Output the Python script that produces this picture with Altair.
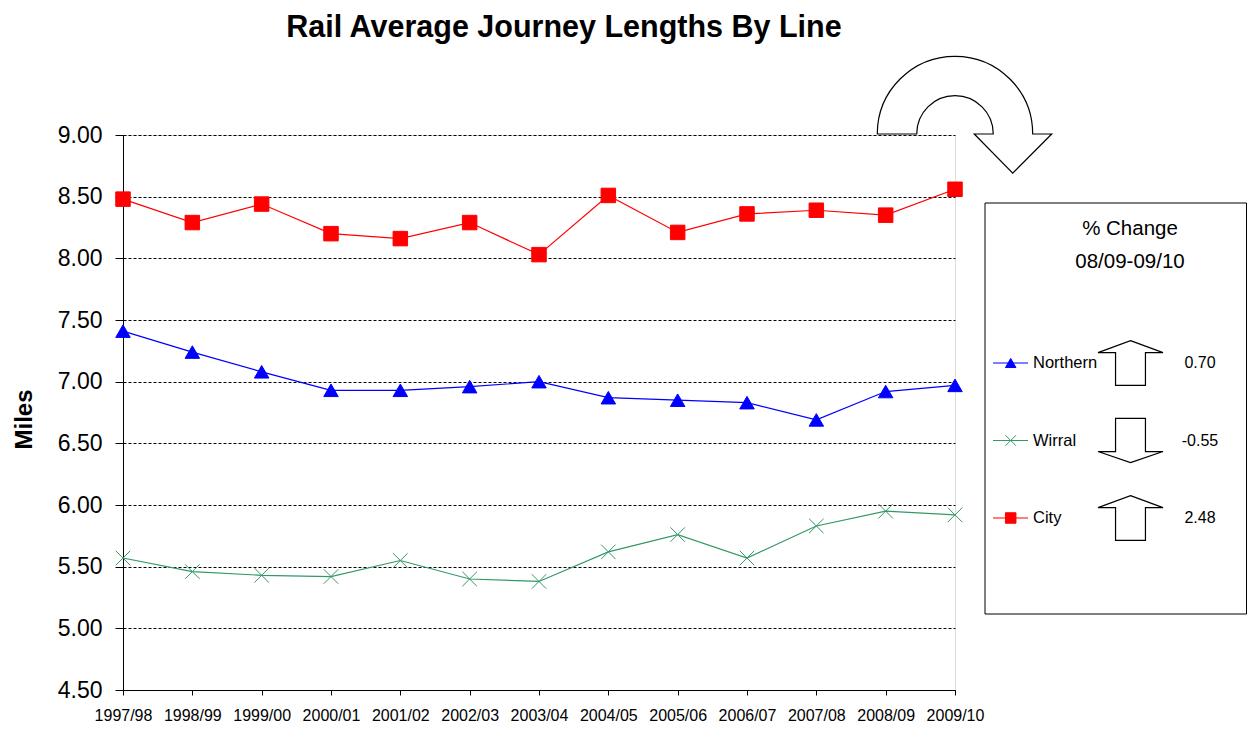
import altair as alt
import pandas as pd

# ---------------- data ----------------
years = ["1997/98", "1998/99", "1999/00", "2000/01", "2001/02", "2002/03", "2003/04",
         "2004/05", "2005/06", "2006/07", "2007/08", "2008/09", "2009/10"]
northern = [7.41, 7.24, 7.08, 6.93, 6.93, 6.96, 7.00, 6.87, 6.85, 6.83, 6.69, 6.92, 6.97]
wirral = [5.57, 5.46, 5.43, 5.42, 5.55, 5.40, 5.38, 5.62, 5.76, 5.57, 5.83, 5.95, 5.92]
city = [8.48, 8.29, 8.44, 8.20, 8.16, 8.29, 8.03, 8.51, 8.21, 8.36, 8.39, 8.35, 8.56]
series_names = ["Northern", "Wirral", "City"]
series_colors = ["#0000FF", "#339966", "#FF0000"]
pct_change = [0.70, -0.55, 2.48]
y_ticks = [4.5, 5.0, 5.5, 6.0, 6.5, 7.0, 7.5, 8.0, 8.5, 9.0]
title_text = "Rail Average Journey Lengths By Line"
legend_header = ["% Change", "08/09-09/10"]
y_title = "Miles"

FONT = "Liberation Sans"
X_PATH = "M-1,-1L1,1M-1,1L1,-1"
UP_PATH = "M0,-0.69L1,-0.32L0.46,-0.32L0.46,0.69L-0.46,0.69L-0.46,-0.32L-1,-0.32Z"
DOWN_PATH = "M0,0.68L1,0.34L0.46,0.34L0.46,-0.68L-0.46,-0.68L-0.46,0.34L-1,0.34Z"
CURVE_PATH = ("M-1,0.22A0.891,0.891,0,0,1,0.782,0.22L1,0.22L0.553,0.67L0.112,0.22"
              "L0.33,0.22A0.439,0.439,0,0,0,-0.548,0.22Z")

rows = []
for name, vals in zip(series_names, [northern, wirral, city]):
    for yr, v in zip(years, vals):
        rows.append({"year": yr, "series": name, "value": v})
df = pd.DataFrame(rows)

legend_df = pd.DataFrame({
    "series": series_names,
    "pct": pct_change,
    "label": [f"{v:.2f}" for v in pct_change],
    "ly": [228 + i * 77.5 for i in range(len(series_names))],
})
header_df = pd.DataFrame({
    "text": legend_header,
    "hy": [94 + i * 32.7 for i in range(len(legend_header))],
})
one = pd.DataFrame({"t": [title_text]})

color_scale = alt.Scale(domain=series_names, range=series_colors)
shape_scale = alt.Scale(domain=series_names, range=["triangle-up", X_PATH, "square"])

x_enc = alt.X("year:N", sort=years, scale=alt.Scale(type="point", padding=0),
              axis=alt.Axis(title=None, labelAngle=0, labelFontSize=16, labelColor="black",
                            tickSize=5, tickColor="black", domainColor="black",
                            labelPadding=12, grid=False))
y_enc = alt.Y("value:Q", scale=alt.Scale(domain=[4.5, 9.0], nice=False, zero=False),
              axis=alt.Axis(values=y_ticks, format=".2f", labelFontSize=23, labelColor="black",
                            labelPadding=13, tickSize=8, tickColor="black",
                            domainColor="black", grid=True, gridColor="black",
                            gridDash=[3, 2], gridWidth=1,
                            title=y_title, titleFontSize=24, titleFontWeight="bold",
                            titleColor="black", titleX=-99, titleY=284,
                            titleAlign="center", titleBaseline="middle"))

lines = alt.Chart(df).mark_line(strokeWidth=1.2).encode(
    x=x_enc, y=y_enc,
    color=alt.Color("series:N", scale=color_scale, legend=None),
)
points = alt.Chart(df).mark_point(filled=True, opacity=1, strokeWidth=1, size=210).encode(
    x=x_enc, y=y_enc,
    fill=alt.Fill("series:N", scale=color_scale, legend=None),
    stroke=alt.Stroke("series:N", scale=color_scale, legend=None),
    shape=alt.Shape("series:N", scale=shape_scale, legend=None),
)

title = alt.Chart(one).mark_text(font=FONT, fontSize=30.5, fontWeight="bold", color="black",
                                 align="center", baseline="alphabetic").encode(
    x=alt.value(441), y=alt.value(-98), text="t:N")

curve = alt.Chart(one).mark_point(shape=CURVE_PATH, size=30415, filled=True, fill="white",
                                  stroke="black", strokeWidth=1.2, opacity=1).encode(
    x=alt.value(841.5), y=alt.value(-20.2))

box = alt.Chart(one).mark_rect(fill="white", stroke="black", strokeWidth=1).encode(
    x=alt.value(862), x2=alt.value(1123.5), y=alt.value(68), y2=alt.value(479))

header = alt.Chart(header_df).mark_text(font=FONT, fontSize=20.5, color="black",
                                        align="center", baseline="middle").encode(
    x=alt.value(1007), y=alt.Y("hy:Q", scale=None), text="text:N")

leg_lines = alt.Chart(legend_df).mark_rule(strokeWidth=1.2).encode(
    x=alt.value(870), x2=alt.value(905), y=alt.Y("ly:Q", scale=None),
    color=alt.Color("series:N", scale=color_scale, legend=None))

leg_pts = alt.Chart(legend_df).mark_point(filled=True, opacity=1, strokeWidth=1, size=110).encode(
    x=alt.value(887.7), y=alt.Y("ly:Q", scale=None),
    fill=alt.Fill("series:N", scale=color_scale, legend=None),
    stroke=alt.Stroke("series:N", scale=color_scale, legend=None),
    shape=alt.Shape("series:N", scale=shape_scale, legend=None))

leg_text = alt.Chart(legend_df).mark_text(font=FONT, fontSize=16.5, color="black",
                                          align="left", baseline="middle").encode(
    x=alt.value(910), y=alt.Y("ly:Q", scale=None), text="series:N")

up_arrows = alt.Chart(legend_df).transform_filter("datum.pct >= 0").mark_point(
    shape=UP_PATH, size=4225, filled=True, fill="white", stroke="black",
    strokeWidth=1.2, opacity=1).encode(
    x=alt.value(1007.5), y=alt.Y("ly:Q", scale=None))

down_arrows = alt.Chart(legend_df).transform_filter("datum.pct < 0").mark_point(
    shape=DOWN_PATH, size=4225, filled=True, fill="white", stroke="black",
    strokeWidth=1.2, opacity=1).encode(
    x=alt.value(1007.5), y=alt.Y("ly:Q", scale=None))

vals = alt.Chart(legend_df).mark_text(font=FONT, fontSize=16, color="black",
                                      align="center", baseline="middle").encode(
    x=alt.value(1077), y=alt.Y("ly:Q", scale=None), text="label:N")

chart = alt.layer(
    lines, points, title, curve, box, header, leg_lines, leg_pts, leg_text,
    up_arrows, down_arrows, vals
).properties(
    width=832, height=555,
    autosize=alt.AutoSizeParams(type="none"),
    padding={"left": 115, "top": 127, "right": 292, "bottom": 35},
    background="white",
).configure_view(
    stroke="#808080", strokeWidth=1
).configure(
    font=FONT
).configure_axis(
    labelFont=FONT, titleFont=FONT
)

chart.save("out.html", embed_options={"renderer": "svg", "actions": False})
